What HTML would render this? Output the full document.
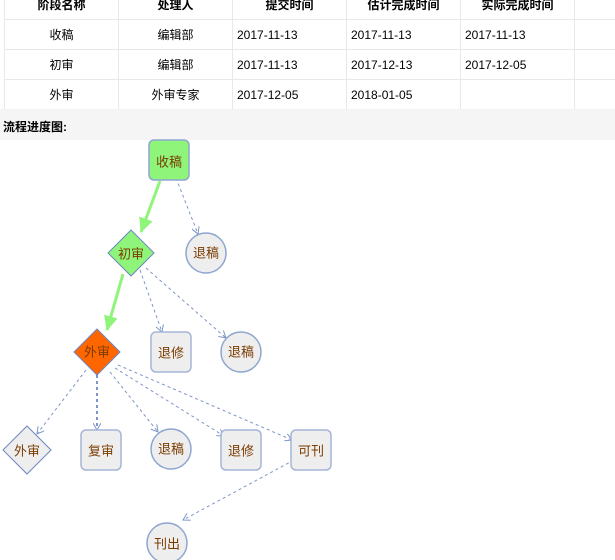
<!DOCTYPE html>
<html><head><meta charset="utf-8"><style>
body{margin:0;width:615px;height:560px;overflow:hidden;background:#fff;font-family:"Liberation Sans","Noto Sans CJK SC",sans-serif;font-size:12px;position:relative}
table{position:absolute;left:4px;top:-11px;border-collapse:collapse;table-layout:fixed;width:684px}
td{border:1px solid #e8e8e8;height:29px;padding:0 4px;color:#000;overflow:hidden;white-space:nowrap}
td.c{text-align:center}
tr.h td{font-weight:bold;text-align:center}
.band{position:absolute;left:0;top:109px;width:615px;height:31px;background:#f5f5f5}
.band b{position:absolute;left:3px;top:9px;font-size:12px}
svg{position:absolute;left:0;top:0}
svg text{font-family:"Liberation Sans","Noto Sans CJK SC",sans-serif;font-size:13px;fill:#7a3c00;text-anchor:middle;dominant-baseline:central}
</style></head><body>
<table>
<colgroup><col style="width:114px"><col style="width:114px"><col style="width:114px"><col style="width:114px"><col style="width:114px"><col style="width:114px"></colgroup>
<tr class="h"><td>阶段名称</td><td>处理人</td><td>提交时间</td><td>估计完成时间</td><td>实际完成时间</td><td></td></tr>
<tr><td class="c">收稿</td><td class="c">编辑部</td><td>2017-11-13</td><td>2017-11-13</td><td>2017-11-13</td><td></td></tr>
<tr><td class="c">初审</td><td class="c">编辑部</td><td>2017-11-13</td><td>2017-12-13</td><td>2017-12-05</td><td></td></tr>
<tr><td class="c">外审</td><td class="c">外审专家</td><td>2017-12-05</td><td>2018-01-05</td><td></td><td></td></tr>
</table>
<div class="band"><b>流程进度图:</b></div>
<svg width="615" height="560">
<defs>
<marker id="a" markerUnits="userSpaceOnUse" markerWidth="8" markerHeight="8" refX="7" refY="4" orient="auto"><path d="M0,0 L7,4 L0,8" fill="none" stroke="#7d96c8" stroke-width="1"/></marker>
<marker id="g" markerUnits="userSpaceOnUse" markerWidth="16" markerHeight="14" refX="14" refY="7" orient="auto"><path d="M0,0 L15,7 L0,14z" fill="#8ef57a"/></marker>
</defs>
<g stroke="#7d96c8" stroke-width="1" stroke-dasharray="3,3" fill="none" marker-end="url(#a)">
<line x1="176" y1="178" x2="198" y2="234"/>
<line x1="140" y1="270" x2="162" y2="332"/>
<line x1="146" y1="268" x2="226" y2="338"/>
<line x1="86" y1="370" x2="37" y2="434"/>
<line x1="97" y1="375" x2="97" y2="430" stroke-width="2"/>
<line x1="110" y1="372" x2="158" y2="432"/>
<line x1="115" y1="368" x2="224" y2="436"/>
<line x1="118" y1="365" x2="292" y2="440"/>
<line x1="294" y1="460" x2="183" y2="520"/>
</g>
<g stroke="#8ef57a" stroke-width="3" marker-end="url(#g)">
<line x1="160" y1="181" x2="141" y2="232"/>
<line x1="123" y1="274" x2="107" y2="330"/>
</g>
<rect x="149" y="140" width="40" height="40" rx="5" fill="#8ef57a" stroke="#8fa6d0" stroke-width="1.5"/><text x="169" y="162">收稿</text>
<circle cx="206" cy="253" r="20" fill="#eee" stroke="#8fa6d0" stroke-width="1.5"/><text x="206" y="253">退稿</text>
<polygon points="131,230 154,253 131,276 108,253" fill="#8ef57a" stroke="#6f86c0"/><text x="131" y="254">初审</text>
<polygon points="97,329 120,352 97,375 74,352" fill="#ff6600" stroke="#6f86c0"/><text x="97" y="352">外审</text>
<rect x="151" y="332" width="40" height="40" rx="5" fill="#eee" stroke="#a5b5d8" stroke-width="1.5"/><text x="171" y="353">退修</text>
<circle cx="241" cy="352" r="20" fill="#eee" stroke="#8fa6d0" stroke-width="1.5"/><text x="241" y="352">退稿</text>
<polygon points="27,426 51,450 27,474 3,450" fill="#eee" stroke="#6f86c0"/><text x="27" y="451">外审</text>
<rect x="81" y="430" width="40" height="40" rx="5" fill="#eee" stroke="#a5b5d8" stroke-width="1.5"/><text x="101" y="451">复审</text>
<circle cx="171" cy="449" r="20" fill="#eee" stroke="#8fa6d0" stroke-width="1.5"/><text x="171" y="449">退稿</text>
<rect x="221" y="430" width="40" height="40" rx="5" fill="#eee" stroke="#a5b5d8" stroke-width="1.5"/><text x="241" y="451">退修</text>
<rect x="291" y="430" width="40" height="40" rx="5" fill="#eee" stroke="#a5b5d8" stroke-width="1.5"/><text x="311" y="451">可刊</text>
<circle cx="167" cy="543" r="20" fill="#eee" stroke="#8fa6d0" stroke-width="1.5"/><text x="167" y="544">刊出</text>
</svg>
</body></html>
